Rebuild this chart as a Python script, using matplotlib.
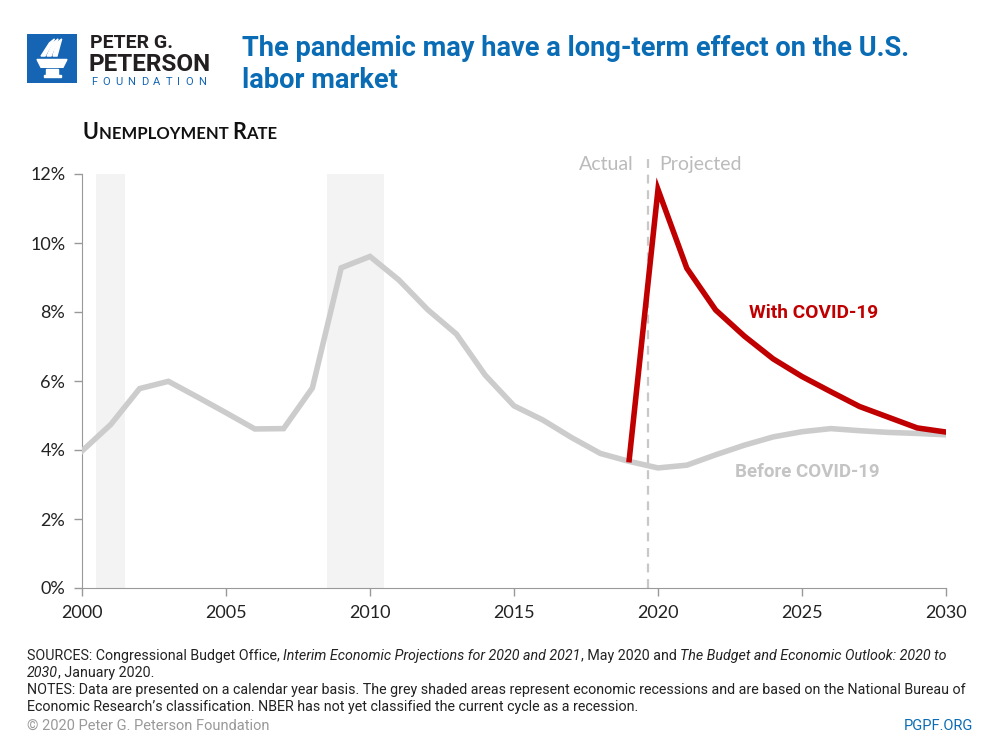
import numpy as np
import matplotlib
matplotlib.use("Agg")
import matplotlib.pyplot as plt
from matplotlib import font_manager
from matplotlib.patches import Rectangle, Polygon

# data
years = np.arange(2000, 2031)
before_covid = [3.97, 4.74, 5.78, 5.99, 5.54, 5.08, 4.61, 4.62, 5.80, 9.28,
                9.61, 8.93, 8.07, 7.36, 6.17, 5.28, 4.87, 4.36, 3.90, 3.67,
                3.48, 3.56, 3.86, 4.14, 4.38, 4.53, 4.62, 4.56, 4.51, 4.48,
                4.44]
covid_years = np.arange(2019, 2031)
with_covid = [3.72, 11.55, 9.27, 8.06, 7.30, 6.64, 6.13, 5.69, 5.26, 4.95,
              4.64, 4.52]
recessions = [(2000.5, 2001.5), (2008.5, 2010.5)]
split_year = 2019.65
yticks = [0, 2, 4, 6, 8, 10, 12]
xticks = [2000, 2005, 2010, 2015, 2020, 2025, 2030]

names = {f.name for f in font_manager.fontManager.ttflist}
narrow = "Liberation Sans Narrow" if "Liberation Sans Narrow" in names else "Roboto"
body = "Lato" if "Lato" in names else "DejaVu Sans"
plt.rcParams["font.family"] = [body, "DejaVu Sans"]

BLUE = "#0a6cb4"
RED = "#c00000"
GREY = "#cccccc"

fig = plt.figure(figsize=(10, 7.5), dpi=100)
W, H = 1000, 750


def fx(px):
    return px / W


def fy(py):
    return 1 - py / H


ax = fig.add_axes([fx(82), fy(588), fx(946) - fx(82), fy(174) - fy(588)])
for a, b in recessions:
    ax.axvspan(a, b, color="#f3f3f3", lw=0, zorder=0)
ax.plot(years, before_covid, color=GREY, lw=4, solid_joinstyle="miter", zorder=3)
ax.plot(covid_years, with_covid, color=RED, lw=4, solid_joinstyle="miter", zorder=4)
ax.plot([split_year, split_year], [0, 12.6], color="#c8c8c8", lw=1.6,
        ls=(0, (4, 3)), clip_on=False, zorder=2)

ax.set_xlim(2000, 2030)
ax.set_ylim(0, 12)
ax.set_yticks(yticks)
ax.set_yticklabels([f"{v}%" for v in yticks])
ax.set_xticks(xticks)
ax.tick_params(axis="both", colors="#999999", labelcolor="#222222",
               labelsize=13, length=6, width=1)
ax.tick_params(axis="y", pad=6)
ax.tick_params(axis="x", pad=6)
for s in ["top", "right"]:
    ax.spines[s].set_visible(False)
for s in ["left", "bottom"]:
    ax.spines[s].set_color("#999999")

ax.text(2027.65, 7.97, "With COVID-19", color=RED, fontsize=13.8,
        fontweight="bold", family=narrow, ha="right", va="center")
ax.text(2027.7, 3.36, "Before COVID-19", color="#c4c4c4", fontsize=13.5,
        fontweight="bold", family=narrow, ha="right", va="center")
ax.text(split_year - 0.5, 12.27, "Actual", color="#bbbbbb", fontsize=14,
        ha="right", va="center")
ax.text(split_year + 0.4, 12.27, "Projected", color="#bbbbbb", fontsize=14,
        ha="left", va="center")

# title
fig.text(fx(242), fy(48), "The pandemic may have a long-term effect on the U.S.",
         color=BLUE, fontsize=19.6, fontweight="bold", family=narrow, va="center")
fig.text(fx(242), fy(80), "labor market",
         color=BLUE, fontsize=19.6, fontweight="bold", family=narrow, va="center")

renderer = fig.canvas.get_renderer()


def width_of(s, **kw):
    t = fig.text(0, 0, "x" + s + "x", **kw)
    t2 = fig.text(0, 0, "xx", **kw)
    w = t.get_window_extent(renderer).width - t2.get_window_extent(renderer).width
    t.remove()
    t2.remove()
    return w


def runs(x, y, parts, gap=0, **kw):
    for s, extra in parts:
        style = dict(kw)
        style.update(extra)
        fig.text(fx(x), fy(y), s, va="baseline", **style)
        x += width_of(s, **style) + gap


# small caps subtitle
big = dict(fontsize=15.5)
small = dict(fontsize=12)
runs(83, 139, [("U", big), ("NEMPLOYMENT ", small), ("R", big), ("ATE", small)],
     color="#111111", fontweight="bold")

# footer
it = dict(style="italic")
no = {}
fkw = dict(color="#222222", fontsize=10.3, family=narrow)
runs(27, 660, [("SOURCES: Congressional Budget Office, ", no),
               ("Interim Economic Projections for 2020 and 2021", it),
               (", May 2020 and ", no),
               ("The Budget and Economic Outlook: 2020 to", it)], **fkw)
runs(27, 677, [("2030", it), (", January 2020.", no)], **fkw)
runs(27, 694, [("NOTES: Data are presented on a calendar year basis. The grey shaded areas "
                "represent economic recessions and are based on the National Bureau of", no)], **fkw)
runs(27, 711, [("Economic Research\u2019s classification. NBER has not yet classified the "
                "current cycle as a recession.", no)], **fkw)
fig.text(fx(27), fy(730), "\u00a9 2020 Peter G. Peterson Foundation", color="#999999",
         fontsize=10.5, family=narrow, va="baseline")
fig.text(fx(973), fy(730), "PGPF.ORG", color=BLUE, fontsize=10.5, family=narrow,
         va="baseline", ha="right")

# logo
lax = fig.add_axes([fx(27), fy(83), fx(77) - fx(27), fy(34) - fy(83)])
lax.set_xlim(0, 1)
lax.set_ylim(0, 1)
lax.axis("off")
lax.add_patch(Rectangle((0, 0), 1, 1, color="#1565b4"))
lax.add_patch(Polygon([[0.2, 0.48], [0.8, 0.48], [0.72, 0.32], [0.28, 0.32]], color="white"))
lax.add_patch(Rectangle((0.38, 0.16), 0.24, 0.13, color="white"))
lax.add_patch(Rectangle((0.33, 0.12), 0.34, 0.05, color="white"))
for dx in [0.0, 0.12, 0.24]:
    lax.add_patch(Polygon([[0.28 + dx, 0.55], [0.36 + dx, 0.55],
                           [0.55 + dx * 0.6, 0.9], [0.45 + dx * 0.6, 0.82]], color="white"))

fig.text(fx(90), fy(48), "PETER G.", color="#231f20", fontsize=14,
         fontweight="bold", family=narrow, va="baseline")
fig.text(fx(89), fy(71), "PETERSON", color="#231f20", fontsize=17.5,
         fontweight="bold", family=narrow, va="baseline")
runs(91, 85, [(c, {}) for c in "FOUNDATION"], gap=5.2, color="#1565b4",
     fontsize=8, family=narrow)

fig.savefig("out.png", dpi=100)
